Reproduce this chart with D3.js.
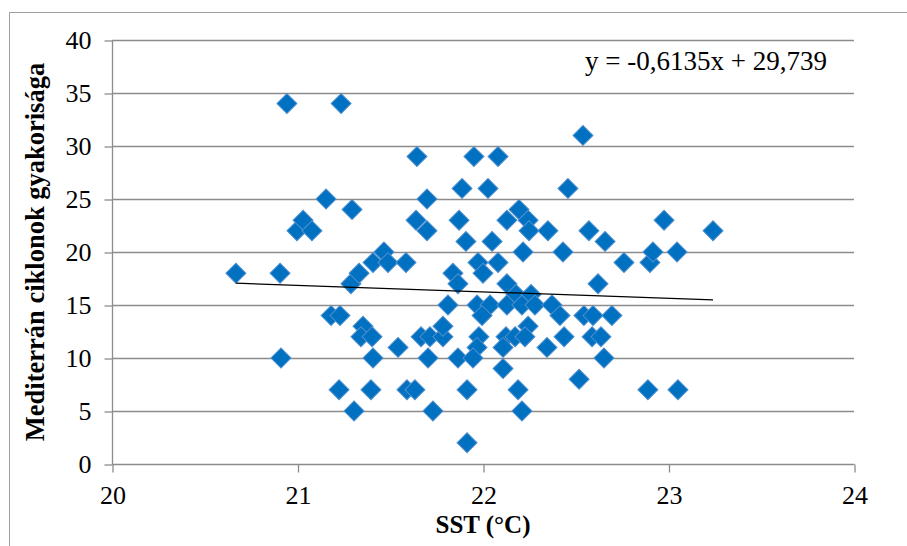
<!DOCTYPE html>
<html>
<head>
<meta charset="utf-8">
<script src="https://cdn.jsdelivr.net/npm/d3@7"></script>
<style>
  html, body { margin: 0; padding: 0; background: #fff; }
  svg { display: block; }
  text { font-family: "Liberation Serif", "Times New Roman", serif; fill: #000; }
</style>
</head>
<body>
<svg id="chart" width="907" height="546"></svg>
<script>
// ---- data ----
const sst = [
  20.668, 20.906, 20.911, 20.943, 20.997, 21.030, 21.078, 21.154, 21.235, 21.181,
  21.229, 21.224, 21.294, 21.288, 21.332, 21.305, 21.353, 21.342, 21.402, 21.407,
  21.396, 21.407, 21.466, 21.488, 21.542, 21.585, 21.590, 21.633, 21.644, 21.639,
  21.698, 21.698, 21.666, 21.714, 21.704, 21.730, 21.784, 21.784, 21.811, 21.838,
  21.865, 21.887, 21.871, 21.908, 21.865, 21.914, 21.914, 21.951, 22.081, 22.027,
  22.049, 21.973, 22.081, 22.000, 21.968, 22.038, 21.995, 21.978, 21.968, 21.946,
  22.129, 22.194, 22.243, 22.248, 22.216, 22.129, 22.178, 22.259, 22.129, 22.210,
  22.280, 22.243, 22.124, 22.173, 22.226, 22.108, 22.108, 22.189, 22.210, 22.350,
  22.431, 22.372, 22.415, 22.437, 22.345, 22.458, 22.539, 22.571, 22.658, 22.620,
  22.544, 22.593, 22.588, 22.636, 22.652, 22.518, 22.695, 22.760, 22.889, 22.900,
  22.916, 22.976, 23.046, 23.051, 23.240
];
const cyclones = [
  18, 18, 10, 34, 22, 23, 22, 25, 34, 14,
  14, 7, 24, 17, 18, 5, 13, 12, 12, 10,
  7, 19, 20, 19, 11, 19, 7, 7, 29, 23,
  25, 22, 12, 12, 10, 5, 12, 13, 15, 18,
  17, 26, 23, 21, 10, 7, 2, 29, 29, 26,
  21, 19, 19, 18, 15, 15, 14, 12, 11, 10,
  23, 24, 23, 22, 20, 17, 16, 16, 15, 15,
  15, 13, 12, 12, 12, 11, 9, 7, 5, 22,
  20, 15, 14, 12, 11, 26, 31, 22, 21, 17,
  14, 14, 12, 12, 10, 8, 14, 19, 7, 19,
  20, 23, 20, 7, 22
];
const xTicks = [20, 21, 22, 23, 24];
const yTicks = [0, 5, 10, 15, 20, 25, 30, 35, 40];
const trendSlope = -0.6135;
const trendIntercept = 29.739;
const equationLabel = "y = -0,6135x + 29,739";
const xTitle = "SST (°C)";
const yTitle = "Mediterrán ciklonok gyakorisága";

// ---- layout ----
const svg = d3.select("#chart");
const mLeft = 112, mRight = 854, mTop = 40, mBottom = 464;
const x = d3.scaleLinear().domain([20, 24]).range([mLeft, mRight]);
const y = d3.scaleLinear().domain([0, 40]).range([mBottom, mTop]);
const gridColor = "#8c8c8c";

// outer chart border (only left & top visible in the frame)
svg.append("rect")
  .attr("x", 9.5).attr("y", 12.5)
  .attr("width", 1000).attr("height", 1000)
  .attr("fill", "none").attr("stroke", "#a0a0a0").attr("stroke-width", 1);

// horizontal gridlines
svg.append("g").selectAll("line").data(yTicks.filter(d => d > 0)).join("line")
  .attr("x1", mLeft).attr("x2", mRight)
  .attr("y1", d => y(d) + 0.5).attr("y2", d => y(d) + 0.5)
  .attr("stroke", gridColor).attr("stroke-width", 1.3);

// y axis
const yAxis = svg.append("g").attr("transform", `translate(${mLeft + 0.5},0.5)`)
  .call(d3.axisLeft(y).tickValues(yTicks).tickSize(8).tickPadding(13).tickFormat(d3.format("d")));
yAxis.select(".domain").attr("stroke", gridColor).attr("stroke-width", 1.3).attr("d", `M0,${mTop}V${mBottom}`);
yAxis.selectAll(".tick line").attr("stroke", gridColor).attr("stroke-width", 1.3);
yAxis.selectAll(".tick text").attr("font-size", 26).attr("font-family", "Liberation Serif, serif").attr("fill", "#000");

// x axis
const xAxis = svg.append("g").attr("transform", `translate(0.5,${mBottom + 0.5})`)
  .call(d3.axisBottom(x).tickValues(xTicks).tickSize(8).tickPadding(13).tickFormat(d3.format("d")));
xAxis.select(".domain").attr("stroke", gridColor).attr("stroke-width", 1.3).attr("d", `M${mLeft},0H${mRight}`);
xAxis.selectAll(".tick line").attr("stroke", gridColor).attr("stroke-width", 1.3);
xAxis.selectAll(".tick text").attr("font-size", 26).attr("font-family", "Liberation Serif, serif").attr("fill", "#000");

// points
const pts = sst.map((v, i) => ({ x: v, y: cyclones[i] }));
const diamond = d3.symbol().type(d3.symbolSquare).size(200);
svg.append("g").selectAll("path").data(pts).join("path")
  .attr("d", diamond)
  .attr("transform", d => `translate(${x(d.x)},${y(d.y)}) rotate(45)`)
  .attr("fill", "#0070c0")
  .attr("stroke", "#4f8fcf")
  .attr("stroke-width", 1);

// linear trend line from the equation, across the data's x range
const [xmin, xmax] = d3.extent(sst);
svg.append("line")
  .attr("x1", x(xmin)).attr("y1", y(trendSlope * xmin + trendIntercept))
  .attr("x2", x(xmax)).attr("y2", y(trendSlope * xmax + trendIntercept))
  .attr("stroke", "#000").attr("stroke-width", 1.3);

// equation label
svg.append("text")
  .attr("x", 585).attr("y", 70)
  .attr("font-size", 27)
  .text(equationLabel);

// axis titles
svg.append("text")
  .attr("x", (mLeft + mRight) / 2).attr("y", 533)
  .attr("text-anchor", "middle")
  .attr("font-size", 25).attr("font-weight", "bold")
  .text(xTitle);

svg.append("text")
  .attr("transform", `translate(44,${(mTop + mBottom) / 2}) rotate(-90)`)
  .attr("text-anchor", "middle")
  .attr("font-size", 26.5).attr("font-weight", "bold")
  .text(yTitle);
</script>
</body>
</html>
